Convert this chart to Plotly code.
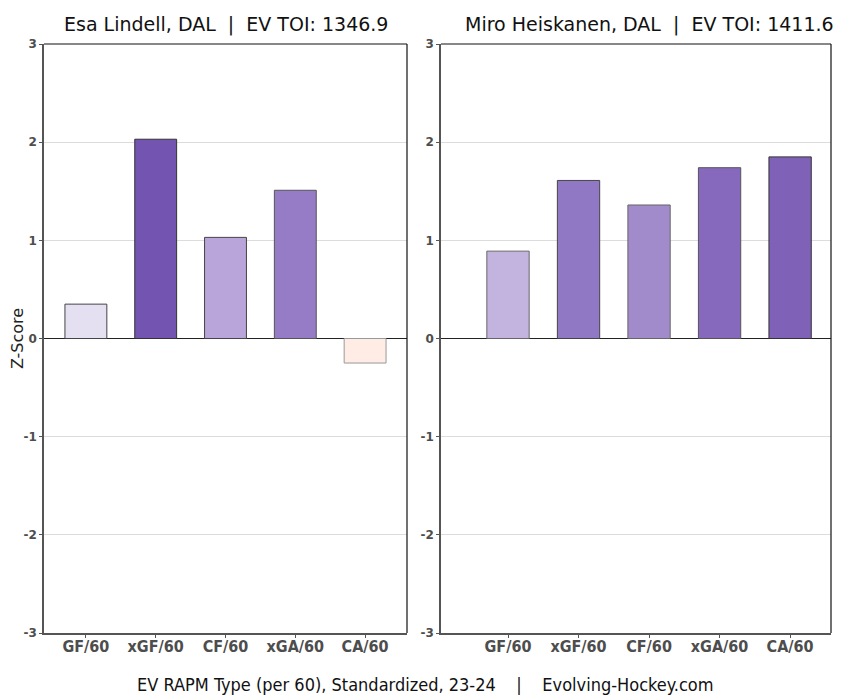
import plotly.graph_objects as go

categories = ["GF/60", "xGF/60", "CF/60", "xGA/60", "CA/60"]
lindell_vals = [0.35, 2.03, 1.03, 1.51, -0.25]
heisk_vals = [0.89, 1.61, 1.36, 1.74, 1.85]
lindell_colors = ["#e5dff2", "#7355b1", "#b9a5d9", "#967cc6", "#feece5"]
heisk_colors = ["#c3b3df", "#9078c4", "#a28bcb", "#8669bc", "#7f62b8"]
lindell_lines = ["#444444", "#333333", "#444444", "#555555", "#999999"]
heisk_lines = ["#666666", "#444444", "#666666", "#555555", "#333333"]
yticks = [-3, -2, -1, 0, 1, 2, 3]
titles = ["Esa Lindell, DAL  |  EV TOI: 1346.9", "Miro Heiskanen, DAL  |  EV TOI: 1411.6"]
caption = "EV RAPM Type (per 60), Standardized, 23-24    |    Evolving-Hockey.com"

# page body adds an 8px offset; lay out in target pixels minus that offset
OFF = 8
W, H = 850 - OFF, 700 - OFF


def px_x(p):
    return (p - OFF) / W


def px_y(p):
    return 1 - (p - OFF) / H


fig = go.Figure()
fig.add_trace(go.Bar(x=categories, y=lindell_vals, width=0.6,
                     marker=dict(color=lindell_colors, line=dict(color=lindell_lines, width=1)),
                     xaxis="x", yaxis="y", showlegend=False, hoverinfo="x+y"))
fig.add_trace(go.Bar(x=categories, y=heisk_vals, width=0.6,
                     marker=dict(color=heisk_colors, line=dict(color=heisk_lines, width=1)),
                     xaxis="x2", yaxis="y2", showlegend=False, hoverinfo="x+y"))

ydom = [px_y(633), px_y(44)]
tickfont_x = dict(family="DejaVu Sans Condensed", size=16, color="#4d4d4d", weight="bold")
tickfont_y = dict(family="DejaVu Sans", size=12, color="#4d4d4d", weight="bold")

common_x = dict(tickfont=tickfont_x, showline=True, linecolor="#555555", linewidth=1.5,
                ticks="outside", ticklen=3, tickcolor="#555555", showgrid=False,
                zeroline=False, fixedrange=True, automargin=False, ticklabelstandoff=-5)
common_y = dict(range=[-3, 3], tickvals=yticks, ticktext=[str(v) for v in yticks],
                tickfont=tickfont_y, showline=True, linecolor="#555555", linewidth=1.5,
                ticks="outside", ticklen=3, tickcolor="#555555", showgrid=True,
                gridcolor="#dcdcdc", gridwidth=1, zeroline=True, zerolinecolor="#222222",
                zerolinewidth=1.2, fixedrange=True, automargin=False)

fig.update_layout(
    width=W, height=H, margin=dict(l=0, r=0, t=0, b=0),
    paper_bgcolor="white", plot_bgcolor="white",
    xaxis=dict(domain=[px_x(44), px_x(407)], range=[-0.6, 4.6], anchor="y", **common_x),
    yaxis=dict(domain=ydom, anchor="x",
               title=dict(text="Z-Score", font=dict(family="DejaVu Sans", size=16, color="#222"), standoff=12),
               **common_y),
    xaxis2=dict(domain=[px_x(441), px_x(831)], range=[-0.95, 4.58], anchor="y2", **common_x),
    yaxis2=dict(domain=ydom, anchor="x2", **common_y),
    font=dict(family="DejaVu Sans"),
)

# top and right frame lines (black)
for xr in ["x", "x2"]:
    yr = "y" if xr == "x" else "y2"
    fig.add_shape(type="line", xref=f"{xr} domain", yref=f"{yr} domain",
                  x0=0, x1=1, y0=1, y1=1, line=dict(color="#111111", width=1.2))
    fig.add_shape(type="line", xref=f"{xr} domain", yref=f"{yr} domain",
                  x0=1, x1=1, y0=0, y1=1, line=dict(color="#111111", width=1.2))

fig.add_annotation(text=titles[0], xref="x", yref="paper", x=2, y=px_y(25),
                   showarrow=False, font=dict(family="DejaVu Sans", size=19, color="#111"),
                   xanchor="center", yanchor="middle")
fig.add_annotation(text=titles[1], xref="x2", yref="paper", x=2, y=px_y(25),
                   showarrow=False, font=dict(family="DejaVu Sans", size=19, color="#111"),
                   xanchor="center", yanchor="middle")
fig.add_annotation(text=caption, xref="paper", yref="paper", x=px_x(425), y=px_y(684),
                   showarrow=False, font=dict(family="DejaVu Sans Condensed", size=18, color="#111"),
                   xanchor="center", yanchor="middle")

fig.write_html("out.html")
